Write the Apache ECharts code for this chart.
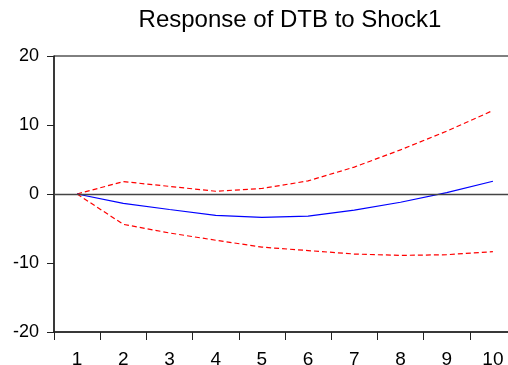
<!DOCTYPE html>
<html lang="en">
<head>
    <meta charset="UTF-8">
    <title>Response of DTB to Shock1</title>
</head>
<body style="margin:0;background:#fff">
<div id="main" style="width:508px;height:365px"></div>
<script src="https://cdn.jsdelivr.net/npm/echarts@6/dist/echarts.min.js"></script>
<script>
    // impulse response and +/- 2 s.e. bands
    var periods = ['1', '2', '3', '4', '5', '6', '7', '8', '9', '10'];
    var response = [0, -1.35, -2.25, -3.1, -3.4, -3.2, -2.35, -1.2, 0.2, 1.85];
    var upperBand = [0, 1.8, 1.1, 0.4, 0.8, 1.9, 3.9, 6.4, 9.1, 12.1];
    var lowerBand = [0, -4.4, -5.65, -6.7, -7.7, -8.2, -8.7, -8.9, -8.8, -8.35];
    var yTicks = [-20, 20, 10]; // min, max, step

    var font = 'Liberation Sans, Arial, sans-serif';
    var myChart = echarts.init(document.getElementById('main'));

    myChart.setOption({
        backgroundColor: '#fff',
        animation: false,
        title: {
            text: 'Response of DTB to Shock1',
            left: 285,
            top: 3,
            textAlign: 'center',
            textStyle: { fontFamily: font, fontSize: 24, fontWeight: 'normal', color: '#000' }
        },
        grid: {
            left: 54, top: 56, width: 462, height: 276,
            outerBoundsMode: 'none',
            containLabel: false,
            show: true, borderColor: '#000', borderWidth: 1
        },
        xAxis: {
            type: 'category',
            data: periods,
            boundaryGap: true,
            axisLine: { onZero: false, lineStyle: { color: '#222', width: 1.5 } },
            axisTick: { show: true, inside: false, length: 8, lineStyle: { color: '#222' } },
            axisLabel: { fontFamily: font, fontSize: 19, color: '#000', margin: 18 },
            splitLine: { show: false }
        },
        yAxis: {
            type: 'value',
            min: yTicks[0], max: yTicks[1], interval: yTicks[2],
            axisLine: { show: true, onZero: false, lineStyle: { color: '#222', width: 1.5 } },
            axisTick: { show: true, inside: false, length: 7, lineStyle: { color: '#222' } },
            axisLabel: { fontFamily: font, fontSize: 18, color: '#000', margin: 15 },
            splitLine: { show: false }
        },
        series: [
            {
                type: 'line',
                data: response,
                symbol: 'none',
                lineStyle: { color: '#0000ff', width: 1.2 },
                markLine: {
                    silent: true,
                    symbol: 'none',
                    label: { show: false },
                    lineStyle: { color: '#444', width: 1.3, type: 'solid' },
                    data: [{ yAxis: 0 }]
                },
                z: 3
            },
            {
                type: 'line',
                data: upperBand,
                symbol: 'none',
                lineStyle: { color: '#ff0000', width: 1.2, type: [5, 3] },
                z: 2
            },
            {
                type: 'line',
                data: lowerBand,
                symbol: 'none',
                lineStyle: { color: '#ff0000', width: 1.2, type: [5, 3] },
                z: 2
            }
        ]
    });
</script>
</body>
</html>
